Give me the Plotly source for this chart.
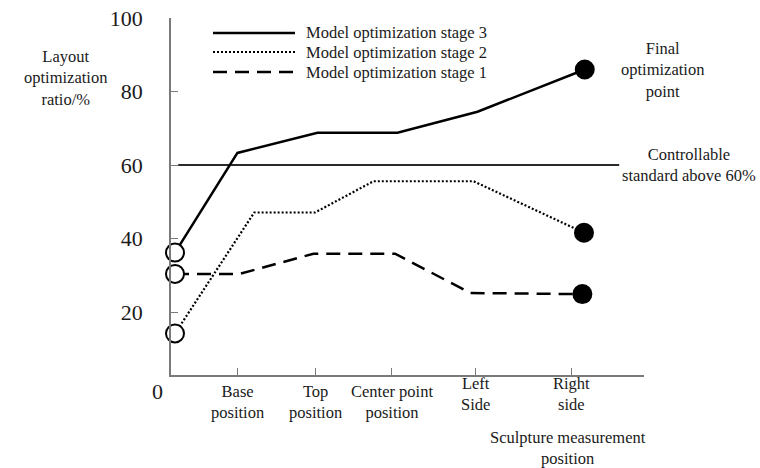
import plotly.graph_objects as go

# ---- data ----
categories = ["Base<br>position", "Top<br>position", "Center point<br>position", "Left<br>Side", "Right<br>side"]
category_pos = [0.83, 1.81, 2.76, 3.80, 5.01]

stage3_x = [0.05, 0.83, 1.83, 2.83, 3.83, 5.17]
stage3_y = [36.2, 63.3, 68.8, 68.8, 74.5, 86.0]

stage2_x = [0.05, 1.04, 1.80, 2.53, 3.78, 5.16]
stage2_y = [14.2, 47.1, 47.1, 55.6, 55.6, 41.6]

stage1_x = [0.05, 0.86, 1.78, 2.80, 3.74, 5.14]
stage1_y = [30.4, 30.4, 35.9, 35.9, 25.2, 24.9]

standard_x = [0.09, 5.60]
standard_y = [60, 60]

y_ticks = [20, 40, 60, 80, 100]

series_names = ["Model optimization stage 3", "Model optimization stage 2", "Model optimization stage 1"]

FONT = "Liberation Serif, Times New Roman, serif"
INK = "#1a1a1a"
AXIS = "#7a7a7a"
TXT = 16.5

ML, MR, MT, MB = 171, 116, 18, 93
W, H = 760, 468
PW, PH = W - ML - MR, H - MT - MB


def px2paper(px, py):
    return (px - ML) / PW, (H - MB - py) / PH


fig = go.Figure()

# reference line
fig.add_trace(go.Scatter(x=standard_x, y=standard_y, mode="lines",
                         line=dict(color="#2a2a2a", width=2), showlegend=False,
                         hoverinfo="skip"))


def marker_style(n):
    sizes = [18] + [0] * (n - 2) + [18]
    fills = ["white"] + ["black"] * (n - 2) + ["black"]
    return dict(size=sizes, color=fills, opacity=1, line=dict(color="black", width=2))


styles = [
    (stage3_x, stage3_y, "solid", 2.5),
    (stage2_x, stage2_y, "2px,2px", 2.2),
    (stage1_x, stage1_y, "14px,8px", 2.5),
]
for (xs, ys, dash, w), name in reversed(list(zip(styles, series_names))):
    fig.add_trace(go.Scatter(x=xs, y=ys, mode="lines+markers", name=name,
                             line=dict(color="black", width=w, dash=dash),
                             marker=marker_style(len(xs)),
                             cliponaxis=False, showlegend=False))

# manual legend (long line samples like the original)
legend_py = [33, 52, 72]
for (xs, ys, dash, w), name, ly in zip(styles, series_names, legend_py):
    x0, y0 = px2paper(213, ly)
    x1, _ = px2paper(295, ly)
    fig.add_shape(type="line", xref="paper", yref="paper", x0=x0, x1=x1, y0=y0, y1=y0,
                  line=dict(color="black", width=w, dash=dash))
    tx, _ = px2paper(304, ly)
    fig.add_annotation(x=tx, y=y0, xref="paper", yref="paper", text=name, showarrow=False,
                       xanchor="left", yanchor="middle",
                       font=dict(family=FONT, size=TXT, color=INK))

# x tick labels as annotations (Left/Right sit slightly higher in the original)
label_shift = [-5, -5, -5, 3, 3]
for pos, lab, sh in zip(category_pos, categories, label_shift):
    fig.add_annotation(x=pos, y=0, xref="x", yref="paper", text=lab, showarrow=False,
                       xanchor="center", yanchor="top", yshift=sh,
                       font=dict(family=FONT, size=TXT, color=INK))

# other texts
texts = [
    ("Layout<br>optimization<br>ratio/%", 65, 78),
    ("Final<br>optimization<br>point", 662, 70),
    ("Controllable<br>standard above 60%", 689, 165),
    ("Sculpture measurement<br>position", 568, 448),
]
for t, px, py in texts:
    ax, ay = px2paper(px, py)
    fig.add_annotation(x=ax, y=ay, xref="paper", yref="paper",
                       text=t, showarrow=False, xanchor="center", yanchor="middle",
                       font=dict(family=FONT, size=TXT, color=INK))
ox, oy = px2paper(157, 391)
fig.add_annotation(x=ox, y=oy, xref="paper", yref="paper", text="0",
                   showarrow=False, xanchor="center", yanchor="middle",
                   font=dict(family=FONT, size=22, color=INK))

fig.update_layout(
    width=W, height=H,
    margin=dict(l=ML, r=MR, t=MT, b=MB),
    paper_bgcolor="white", plot_bgcolor="white",
    showlegend=False,
    xaxis=dict(range=[0, 5.91], showgrid=False, zeroline=False, showline=True,
               linecolor=AXIS, linewidth=1.5, tickvals=category_pos, ticktext=[""] * 5,
               ticks="inside", ticklen=7, tickcolor=AXIS, tickwidth=1.2, automargin=False),
    yaxis=dict(range=[2.9, 100], showgrid=False, zeroline=False, showline=True,
               linecolor=AXIS, linewidth=1.5, tickvals=y_ticks,
               ticks="inside", ticklen=7, tickcolor=AXIS, tickwidth=1.2,
               ticklabelstandoff=22, automargin=False,
               tickfont=dict(family=FONT, size=22, color=INK)),
)

fig.write_html("out.html", config={"displayModeBar": False},
               post_script="document.body.style.margin='0px';")
